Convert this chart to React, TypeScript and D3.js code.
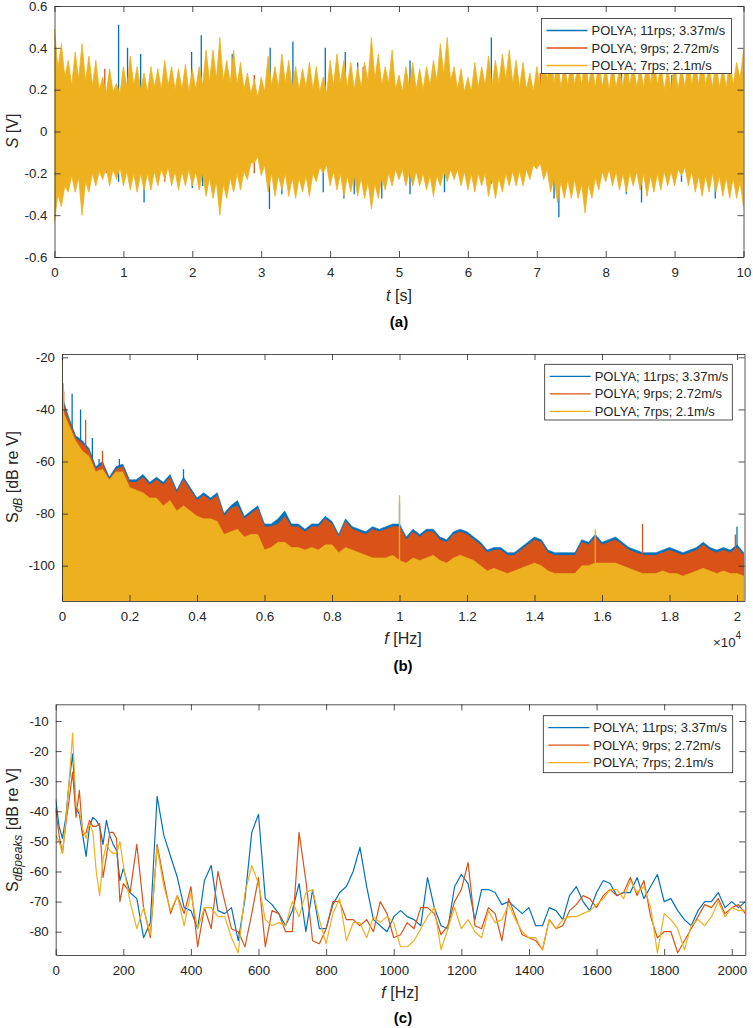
import React, { useEffect, useRef } from 'react';
import * as d3 from 'd3';

const COLORS = ['#0072BD', '#D95319', '#EDB120'];
const SERIES = ['POLYA; 11rps; 3.37m/s', 'POLYA; 9rps; 2.72m/s', 'POLYA; 7rps; 2.1m/s'];
const FONT = '"Liberation Sans", Arial, Helvetica, sans-serif';
const INK = '#262626';

// ---- (a) time signal: outer envelope every 0.1 s, dense-core edge in between, spikes that stick out
const timeA = d3.range(0, 101).map(i => i / 10);
const yellowHiA = [
  0.49, 0.42, 0.34, 0.38, 0.42, 0.36, 0.34, 0.26, 0.30, 0.23,
  0.31, 0.36, 0.31, 0.28, 0.31, 0.30, 0.34, 0.31, 0.30, 0.32,
  0.30, 0.31, 0.39, 0.39, 0.45, 0.34, 0.39, 0.33, 0.28, 0.25,
  0.26, 0.36, 0.31, 0.37, 0.34, 0.31, 0.30, 0.33, 0.31, 0.26,
  0.34, 0.37, 0.34, 0.33, 0.31, 0.33, 0.45, 0.37, 0.31, 0.39,
  0.27, 0.31, 0.33, 0.30, 0.31, 0.34, 0.42, 0.45, 0.31, 0.30,
  0.26, 0.33, 0.31, 0.36, 0.34, 0.37, 0.39, 0.34, 0.33, 0.28,
  0.31, 0.36, 0.39, 0.34, 0.32, 0.35, 0.33, 0.36, 0.32, 0.34,
  0.31, 0.33, 0.30, 0.35, 0.33, 0.31, 0.34, 0.36, 0.32, 0.30,
  0.33, 0.31, 0.35, 0.33, 0.36, 0.32, 0.34, 0.31, 0.35, 0.33,
  0.39,
];
const yellowLoA = [
  -0.43, -0.36, -0.29, -0.29, -0.40, -0.29, -0.26, -0.23, -0.26, -0.23,
  -0.26, -0.28, -0.29, -0.28, -0.28, -0.26, -0.23, -0.26, -0.28, -0.26,
  -0.26, -0.28, -0.31, -0.32, -0.40, -0.32, -0.29, -0.28, -0.23, -0.15,
  -0.21, -0.29, -0.31, -0.28, -0.31, -0.32, -0.29, -0.31, -0.24, -0.20,
  -0.26, -0.28, -0.31, -0.29, -0.31, -0.32, -0.37, -0.32, -0.28, -0.26,
  -0.23, -0.26, -0.26, -0.26, -0.28, -0.31, -0.26, -0.24, -0.23, -0.26,
  -0.28, -0.29, -0.26, -0.31, -0.32, -0.29, -0.26, -0.26, -0.26, -0.23,
  -0.18, -0.23, -0.29, -0.34, -0.32, -0.32, -0.32, -0.39, -0.32, -0.28,
  -0.24, -0.26, -0.28, -0.29, -0.26, -0.28, -0.31, -0.29, -0.28, -0.26,
  -0.26, -0.21, -0.26, -0.29, -0.31, -0.29, -0.29, -0.31, -0.32, -0.32,
  -0.36,
];
// edge of the dense core, read halfway between the envelope samples (t = 0.05, 0.15, ...)
const coreHiA = [
  0.30, 0.26, 0.22, 0.25, 0.24, 0.22, 0.20, 0.18, 0.19, 0.18,
  0.21, 0.22, 0.20, 0.19, 0.21, 0.20, 0.22, 0.20, 0.20, 0.19,
  0.20, 0.22, 0.24, 0.25, 0.24, 0.23, 0.22, 0.20, 0.18, 0.16,
  0.19, 0.22, 0.21, 0.23, 0.21, 0.20, 0.21, 0.20, 0.19, 0.18,
  0.22, 0.23, 0.21, 0.20, 0.21, 0.24, 0.25, 0.22, 0.23, 0.20,
  0.19, 0.21, 0.20, 0.20, 0.22, 0.24, 0.27, 0.24, 0.20, 0.19,
  0.19, 0.21, 0.22, 0.22, 0.23, 0.25, 0.23, 0.21, 0.20, 0.19,
  0.21, 0.24, 0.23, 0.21, 0.22, 0.22, 0.22, 0.22, 0.21, 0.21,
  0.20, 0.21, 0.21, 0.22, 0.21, 0.21, 0.23, 0.22, 0.20, 0.20,
  0.20, 0.21, 0.22, 0.22, 0.22, 0.21, 0.21, 0.21, 0.22, 0.25,
];
const coreLoA = [
  -0.30, -0.26, -0.21, -0.22, -0.24, -0.20, -0.19, -0.17, -0.18, -0.17,
  -0.19, -0.20, -0.20, -0.20, -0.19, -0.18, -0.17, -0.19, -0.19, -0.18,
  -0.19, -0.20, -0.22, -0.24, -0.25, -0.22, -0.20, -0.19, -0.15, -0.12,
  -0.16, -0.20, -0.21, -0.20, -0.22, -0.22, -0.21, -0.20, -0.17, -0.16,
  -0.19, -0.20, -0.21, -0.21, -0.22, -0.24, -0.25, -0.22, -0.20, -0.18,
  -0.18, -0.19, -0.19, -0.20, -0.21, -0.21, -0.19, -0.18, -0.18, -0.19,
  -0.20, -0.20, -0.20, -0.22, -0.22, -0.20, -0.19, -0.19, -0.18, -0.16,
  -0.15, -0.18, -0.22, -0.24, -0.23, -0.23, -0.25, -0.25, -0.22, -0.19,
  -0.18, -0.19, -0.20, -0.20, -0.19, -0.20, -0.21, -0.20, -0.19, -0.19,
  -0.18, -0.17, -0.19, -0.21, -0.21, -0.20, -0.21, -0.22, -0.22, -0.24,
];
const blueSpikesA: [number, number][] = [
  [0.05, -0.26], [0.93, 0.51], [0.93, -0.24], [1.06, 0.40], [1.25, 0.37], [1.3, -0.34],
  [1.99, 0.38], [2.0, -0.27], [2.13, 0.46], [2.15, -0.26], [2.58, 0.37], [3.12, -0.37],
  [3.13, 0.40], [3.3, -0.30], [3.46, 0.43], [3.9, -0.29], [3.93, 0.40], [4.2, -0.32],
  [4.22, 0.38], [4.35, -0.30], [4.4, 0.33], [4.75, -0.32], [5.16, 0.34], [5.16, -0.30],
  [5.66, -0.29], [6.34, 0.45], [6.34, -0.25], [7.13, 0.27], [7.25, -0.32], [7.32, -0.41],
  [8.23, 0.30], [8.3, -0.30], [8.52, -0.34], [8.96, 0.27], [9.1, -0.24], [9.5, 0.30],
  [9.59, -0.32],
];
const redSpikesA: [number, number][] = [
  [0.73, 0.30], [0.75, -0.20], [1.6, -0.24], [2.9, 0.27], [2.9, -0.20], [3.92, -0.12],
  [4.48, 0.31], [4.6, -0.20], [6.4, 0.23], [6.6, -0.20], [7.05, 0.28],
];

// ---- (b) spectrum: top of each band every 200 Hz, plus single peaks
const freqB = d3.range(0, 102).map(i => i * 200);
const blueTopB = [
  -35, -43, -50, -52, -55, -62, -60, -66, -62, -61,
  -67, -67, -65, -68, -66, -68, -65, -71, -66, -70,
  -74, -72, -74, -72, -80, -77, -75, -81, -79, -77,
  -84, -84, -82, -79, -84, -84, -86, -84, -84, -81,
  -83, -88, -82, -85, -86, -87, -85, -86, -85, -84,
  -84, -89, -86, -88, -86, -86, -89, -90, -87, -86,
  -87, -89, -91, -94, -93, -93, -95, -95, -93, -91,
  -89, -90, -94, -95, -95, -95, -95, -90, -91, -88,
  -91, -90, -89, -91, -93, -94, -95, -95, -95, -94,
  -93, -94, -95, -94, -93, -91, -93, -94, -93, -94,
  -92, -95,
];
const redTopB = [
  -37, -44, -51, -53, -56, -63, -61, -67, -63, -62,
  -68, -68, -66, -69, -67, -69, -66, -72, -67, -71,
  -75, -73, -75, -73, -81, -78, -77, -82, -80, -78,
  -85, -85, -84, -81, -85, -85, -87, -85, -85, -82,
  -84, -89, -83, -86, -87, -88, -86, -87, -86, -85,
  -85, -90, -87, -89, -87, -87, -90, -91, -88, -87,
  -88, -90, -92, -95, -94, -94, -96, -96, -94, -92,
  -90, -91, -95, -96, -96, -96, -96, -91, -92, -89,
  -92, -91, -90, -92, -94, -95, -96, -96, -96, -95,
  -94, -95, -96, -95, -94, -92, -94, -95, -94, -95,
  -93, -96,
];
const yellowTopB = [
  -40, -46, -52, -56, -58, -64, -63, -67, -64, -64,
  -70, -71, -72, -74, -74, -77, -75, -79, -77, -79,
  -81, -82, -82, -83, -88, -87, -86, -89, -88, -88,
  -94, -93, -91, -91, -93, -93, -94, -93, -94, -92,
  -92, -95, -93, -94, -95, -96, -97, -97, -97, -96,
  -98, -99, -97, -98, -97, -96, -98, -99, -97, -96,
  -97, -98, -100, -102, -101, -102, -103, -102, -101, -100,
  -99, -100, -102, -103, -103, -103, -103, -100, -100, -99,
  -99, -99, -99, -100, -101, -102, -103, -103, -103, -102,
  -103, -103, -104, -103, -102, -101, -102, -103, -102, -103,
  -103, -104,
];
const blueSpikesB: [number, number][] = [
  [300, -34], [550, -40], [900, -51], [1100, -59], [1700, -59], [3600, -63], [10000, -76], [20000, -85],
];
const redSpikesB: [number, number][] = [
  [50, -33], [700, -44], [1200, -56], [17200, -84], [19950, -88],
];
const yellowSpikesB: [number, number][] = [
  [0, -18], [40, -30], [10000, -73], [15800, -86],
];

// ---- (c) peak spectrum
const freqC = d3.range(0, 200, 10).concat(d3.range(200, 2041, 20));
const blueC = [
  -36, -45, -49, -42, -30, -21, -39, -41, -48, -55, -45, -42, -43, -45, -51, -43, -48, -51, -53, -63,
  -59, -67, -69, -82, -77, -35, -48, -55, -62, -72,
  -73, -79, -63, -58, -73, -74, -72, -83, -69, -47,
  -41, -69, -71, -74, -78, -73, -64, -80, -66, -79,
  -79, -71, -67, -65, -60, -52, -65, -76, -78, -80,
  -75, -73, -75, -76, -78, -62, -72, -78, -79, -65,
  -61, -64, -76, -66, -66, -67, -71, -70, -72, -74,
  -72, -78, -78, -72, -73, -76, -68, -65, -70, -73,
  -67, -63, -64, -68, -67, -67, -62, -69, -65, -61,
  -70, -69, -73, -76, -78, -73, -70, -70, -67, -72,
  -70, -72, -70,
];
const redC = [
  -39, -48, -54, -44, -36, -27, -42, -33, -48, -47, -43, -45, -45, -44, -62, -55, -47, -47, -49, -70,
  -64, -67, -51, -72, -82, -51, -63, -74, -68, -74,
  -65, -85, -72, -79, -60, -70, -79, -80, -85, -74,
  -62, -85, -73, -74, -80, -80, -47, -63, -83, -84,
  -79, -70, -70, -76, -76, -78, -76, -80, -70, -74,
  -82, -81, -77, -79, -72, -72, -74, -81, -78, -70,
  -66, -57, -78, -79, -72, -74, -83, -69, -75, -81,
  -82, -83, -86, -76, -79, -78, -73, -71, -68, -69,
  -72, -68, -66, -68, -67, -62, -68, -63, -75, -82,
  -80, -80, -87, -83, -79, -75, -71, -72, -69, -74,
  -72, -71, -74,
];
const yellowC = [
  -48, -50, -54, -43, -30, -14, -38, -40, -46, -49, -44, -47, -60, -68, -56, -51, -53, -54, -54, -50,
  -58, -70, -79, -72, -81, -52, -65, -73, -68, -78,
  -67, -79, -72, -72, -75, -75, -82, -87, -67, -58,
  -64, -76, -78, -77, -78, -70, -75, -67, -66, -76,
  -84, -74, -69, -83, -77, -77, -82, -75, -77, -75,
  -77, -85, -85, -83, -79, -75, -72, -86, -79, -72,
  -79, -76, -80, -82, -73, -77, -76, -71, -76, -80,
  -82, -82, -86, -76, -79, -76, -75, -75, -74, -73,
  -71, -69, -66, -66, -69, -63, -67, -65, -72, -87,
  -74, -76, -79, -86, -78, -76, -78, -75, -70, -75,
  -72, -73, -73,
];

type Sel = d3.Selection<any, unknown, null, undefined>;

function axes(svg: Sel, x: d3.ScaleLinear<number, number>, y: d3.ScaleLinear<number, number>,
  xTicks: number[], yTicks: number[], xFmt: (d: number) => string, yFmt: (d: number) => string) {
  const [x0, x1] = x.range();
  const [yb, yt] = y.range();
  const style = (g: Sel) => {
    g.attr('font-family', FONT).attr('font-size', 13.3);
    g.select('.domain').attr('stroke', INK).attr('stroke-width', 0.8);
    g.selectAll('.tick line').attr('stroke', INK).attr('stroke-width', 0.8);
    g.selectAll('.tick text').attr('fill', INK);
  };
  const none = () => '';
  svg.append('g').attr('transform', `translate(0,${yb})`)
    .call(d3.axisBottom(x).tickValues(xTicks).tickSize(-6).tickSizeOuter(0).tickPadding(11).tickFormat(xFmt as any)).call(style);
  svg.append('g').attr('transform', `translate(0,${yt})`)
    .call(d3.axisTop(x).tickValues(xTicks).tickSize(-6).tickSizeOuter(0).tickFormat(none)).call(style);
  svg.append('g').attr('transform', `translate(${x0},0)`)
    .call(d3.axisLeft(y).tickValues(yTicks).tickSize(-6).tickSizeOuter(0).tickPadding(7).tickFormat(yFmt as any)).call(style);
  svg.append('g').attr('transform', `translate(${x1},0)`)
    .call(d3.axisRight(y).tickValues(yTicks).tickSize(-6).tickSizeOuter(0).tickFormat(none)).call(style);
}

function clip(svg: Sel, id: string, x: d3.ScaleLinear<number, number>, y: d3.ScaleLinear<number, number>) {
  const [x0, x1] = x.range();
  const [yb, yt] = y.range();
  svg.append('clipPath').attr('id', id).append('rect')
    .attr('x', x0).attr('y', yt).attr('width', x1 - x0).attr('height', yb - yt);
  return svg.append('g').attr('clip-path', `url(#${id})`);
}

function legend(svg: Sel, left: number, top: number, w: number, h: number) {
  svg.append('rect').attr('x', left).attr('y', top).attr('width', w).attr('height', h)
    .attr('fill', '#fff').attr('stroke', INK).attr('stroke-width', 0.8);
  SERIES.forEach((name, i) => {
    const cy = top + 12 + i * 17.5;
    svg.append('line').attr('x1', left + 5).attr('x2', left + 46).attr('y1', cy).attr('y2', cy)
      .attr('stroke', COLORS[i]).attr('stroke-width', 1.3);
    svg.append('text').attr('x', left + 50).attr('y', cy).attr('dominant-baseline', 'central')
      .attr('font-family', FONT).attr('font-size', 13).attr('fill', INK).text(name);
  });
}

function xLabel(svg: Sel, cx: number, cy: number, v: string, rest: string) {
  const t = svg.append('text').attr('x', cx).attr('y', cy).attr('text-anchor', 'middle')
    .attr('dominant-baseline', 'central').attr('font-family', FONT).attr('font-size', 16).attr('fill', INK);
  t.append('tspan').attr('font-style', 'italic').text(v);
  t.append('tspan').text(rest);
}

function yLabel(svg: Sel, cy: number, main: string, italicMain: boolean, sub: string, rest: string) {
  const t = svg.append('text').attr('transform', `translate(18,${cy}) rotate(-90)`)
    .attr('text-anchor', 'middle').attr('font-family', FONT).attr('font-size', 16).attr('fill', INK);
  t.append('tspan').attr('font-style', italicMain ? 'italic' : 'normal').text(main);
  if (sub) {
    t.append('tspan').attr('font-style', 'italic').attr('font-size', 12).attr('dy', 4).text(sub);
    t.append('tspan').attr('dy', -4).text(rest);
  } else {
    t.append('tspan').text(rest);
  }
}

function letter(svg: Sel, cx: number, cy: number, s: string) {
  svg.append('text').attr('x', cx).attr('y', cy).attr('text-anchor', 'middle').attr('dominant-baseline', 'central')
    .attr('font-family', FONT).attr('font-size', 15).attr('font-weight', 'bold').attr('fill', '#000').text(s);
}

function spikes(g: Sel, pts: [number, number][], x: (v: number) => number, y: d3.ScaleLinear<number, number>, base: number, color: string) {
  g.selectAll(null).data(pts).enter().append('line')
    .attr('x1', d => x(d[0])).attr('x2', d => x(d[0]))
    .attr('y1', y(base)).attr('y2', d => y(d[1]))
    .attr('stroke', color).attr('stroke-width', 1.3);
}

export default function App() {
  const ref = useRef<SVGSVGElement | null>(null);

  useEffect(() => {
    const svg = d3.select(ref.current) as Sel;
    svg.selectAll('*').remove();

    // ---------- (a)
    const xa = d3.scaleLinear([0, 10], [54.5, 743.5]);
    const ya = d3.scaleLinear([-0.6, 0.6], [257, 6]);
    const ga = clip(svg, 'clipA', xa, ya);
    spikes(ga, blueSpikesA, xa, ya, 0, COLORS[0]);
    spikes(ga, redSpikesA, xa, ya, 0, COLORS[1]);
    // envelope samples interleaved with the core edge between them
    const bandA: { t: number; hi: number; lo: number }[] = [];
    timeA.forEach((t, i) => {
      bandA.push({ t, hi: yellowHiA[i], lo: yellowLoA[i] });
      if (i < coreHiA.length) bandA.push({ t: t + 0.05, hi: coreHiA[i], lo: coreLoA[i] });
    });
    ga.append('path').datum(bandA)
      .attr('fill', COLORS[2]).attr('stroke', COLORS[2]).attr('stroke-width', 0.8)
      .attr('d', d3.area<{ t: number; hi: number; lo: number }>().x(d => xa(d.t)).y0(d => ya(d.lo)).y1(d => ya(d.hi)));
    axes(svg, xa, ya, d3.range(0, 11), [-0.6, -0.4, -0.2, 0, 0.2, 0.4, 0.6], d => String(d), d => String(+d.toFixed(1)));
    legend(svg, 541.5, 18.5, 190, 55);
    xLabel(svg, 399, 295, 't', ' [s]');
    yLabel(svg, 131, 'S', true, '', ' [V]');
    letter(svg, 399, 321, '(a)');

    // ---------- (b)
    const xb = d3.scaleLinear([0, 20222], [62, 744.5]);
    const yb = d3.scaleLinear([-113.55, -18.73], [601, 354]);
    const gb = clip(svg, 'clipB', xb, yb);
    const bottomB = yb.domain()[0];
    [blueTopB, redTopB, yellowTopB].forEach((top, k) => {
      gb.append('path').datum(freqB)
        .attr('fill', COLORS[k]).attr('stroke', COLORS[k]).attr('stroke-width', 0.6)
        .attr('d', d3.area<number>().x(f => xb(f)).y0(yb(bottomB)).y1((_, i) => yb(top[i])));
      spikes(gb, [blueSpikesB, redSpikesB, yellowSpikesB][k], xb, yb, bottomB, COLORS[k]);
    });
    axes(svg, xb, yb, d3.range(0, 20001, 2000), [-100, -80, -60, -40, -20],
      d => String(+(d / 10000).toFixed(1)), d => String(d));
    legend(svg, 544.7, 364.3, 187.6, 55.7);
    xLabel(svg, 403, 638, 'f', ' [Hz]');
    yLabel(svg, 477, 'S', false, 'dB', ' [dB re V]');
    const exp = svg.append('text').attr('x', 713).attr('y', 642).attr('dominant-baseline', 'central')
      .attr('font-family', FONT).attr('font-size', 13.3).attr('fill', INK);
    exp.append('tspan').text('\u00d710');
    exp.append('tspan').attr('font-size', 10).attr('dy', -7).text('4');
    letter(svg, 403, 665, '(b)');

    // ---------- (c)
    const xc = d3.scaleLinear([0, 2040], [55.7, 745.3]);
    const yc = d3.scaleLinear([-87.74, -4.45], [955, 704.3]);
    const gc = clip(svg, 'clipC', xc, yc);
    [blueC, redC, yellowC].forEach((vals, k) => {
      gc.append('path').datum(freqC)
        .attr('fill', 'none').attr('stroke', COLORS[k]).attr('stroke-width', 1.2).attr('stroke-linejoin', 'round')
        .attr('d', d3.line<number>().x(f => xc(f)).y((_, i) => yc(vals[i])));
    });
    axes(svg, xc, yc, d3.range(0, 2001, 200), d3.range(-80, -9, 10), d => String(d), d => String(d));
    legend(svg, 543.3, 715.7, 189.4, 57);
    xLabel(svg, 400, 992, 'f', ' [Hz]');
    yLabel(svg, 830, 'S', false, 'dBpeaks', ' [dB re V]');
    letter(svg, 403, 1017, '(c)');
  }, []);

  return (
    <svg ref={ref} width={753} height={1028}
      style={{ position: 'absolute', left: 0, top: 0, background: '#fff' }} />
  );
}
